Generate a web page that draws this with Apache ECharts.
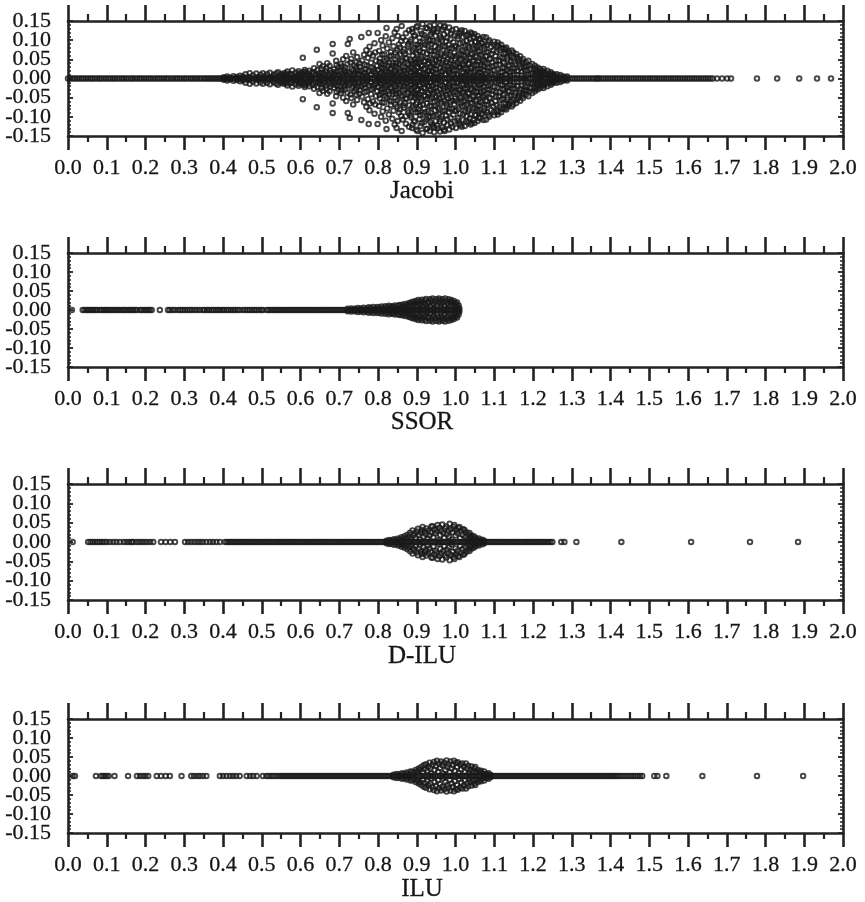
<!DOCTYPE html>
<html><head><meta charset="utf-8">
<script src="https://cdn.jsdelivr.net/npm/echarts@6/dist/echarts.min.js"></script>
<style>html,body{margin:0;padding:0;background:#fff}#c{width:865px;height:902px}</style>
</head><body><div id="c"></div>
<script>
// ---- tick labels ----
const xTickLabels = ['0.0','0.1','0.2','0.3','0.4','0.5','0.6','0.7','0.8','0.9','1.0','1.1','1.2','1.3','1.4','1.5','1.6','1.7','1.8','1.9','2.0'];
const yTickValues = [-0.15,-0.10,-0.05,0.00,0.05,0.10,0.15];
const yTickLabels = ['-0.15','-0.10','-0.05','0.00','0.05','0.10','0.15'];
const panelTitles = ['Jacobi','SSOR','D-ILU','ILU'];

// ---- Jacobi: real eigenvalues (on the axis) ----
const jacobiReal = [0.000,0.006,0.012,0.017,0.023,0.029,0.035,0.040,0.046,0.052,0.058,0.063,0.069,0.075,0.081,0.086,0.092,0.098,0.104,0.110,0.116,0.121,0.127,0.133,0.139,0.144,0.150,0.156,0.162,0.167,0.173,0.179,0.185,0.190,0.196,0.202,0.208,0.213,0.219,0.225,0.231,0.236,0.242,0.248,0.254,0.259,0.265,0.271,0.277,0.282,0.288,0.294,0.300,0.305,0.311,0.317,0.322,0.328,0.333,0.339,0.344,0.350,0.355,0.360,0.365,0.370,0.375,0.380,0.385,0.390,0.394,0.399,0.404,0.408,0.413,0.418,0.422,0.427,0.432,0.436,0.441,0.446,0.450,0.455,0.460,0.464,0.469,0.474,0.478,0.483,0.488,0.492,0.497,0.502,0.506,0.511,0.516,0.520,0.525,0.530,0.534,0.539,0.544,0.548,0.553,0.558,0.562,0.567,0.572,0.576,0.581,0.586,0.590,0.595,0.600,
0.606,0.612,0.618,0.624,0.630,0.636,0.642,0.648,0.654,0.660,0.666,0.672,0.678,0.684,0.690,0.696,0.702,0.708,0.714,0.720,0.726,0.732,0.738,0.744,0.750,0.756,0.762,0.768,0.774,0.780,0.786,0.792,0.798,0.804,0.810,0.816,0.822,0.828,0.834,0.840,0.846,0.852,0.858,0.864,0.870,0.876,0.882,0.888,0.894,0.900,0.906,0.912,0.918,0.924,0.930,0.936,0.942,0.948,0.954,0.960,0.966,0.972,0.978,0.984,0.990,0.996,1.002,1.008,1.014,1.020,1.026,1.032,1.038,1.044,1.050,1.056,1.062,1.068,1.074,1.080,1.086,1.092,1.098,1.104,1.110,1.116,1.122,1.128,1.134,1.140,1.146,1.152,1.158,1.164,1.170,1.176,1.182,1.188,1.194,1.200,1.206,1.212,1.218,1.224,1.230,1.236,1.242,1.248,1.254,1.260,1.266,1.272,1.278,1.284,1.290,1.296,
1.302,1.308,1.314,1.320,1.326,1.332,1.338,1.344,1.350,1.356,1.362,1.366,1.370,1.376,1.382,1.388,1.394,1.400,1.406,1.412,1.418,1.424,1.430,1.436,1.442,1.448,1.454,1.460,1.466,1.472,1.478,1.484,1.490,1.496,1.502,1.508,1.514,1.520,1.526,1.532,1.538,1.544,1.550,1.556,1.562,1.568,1.574,1.580,1.586,1.592,1.598,1.604,1.610,1.616,1.622,1.628,1.634,1.640,1.646,1.652,1.658,1.664,1.675,1.688,1.701,1.711,1.778,1.830,1.887,1.933,1.969];

// ---- Jacobi: complex eigenvalues, upper half-plane [re, im] (conjugates mirrored) ----
const jacobiComplex = [
[0.402,0.003],[0.411,0.005],[0.418,0.002],[0.427,0.006],[0.436,0.004],[0.444,0.007],
[0.452,0.005],[0.458,0.011],[0.466,0.003],[0.469,0.014],[0.477,0.008],[0.486,0.013],[0.491,0.004],[0.497,0.010],
[0.503,0.014],[0.508,0.006],[0.514,0.011],[0.521,0.015],[0.526,0.003],[0.531,0.009],[0.537,0.013],[0.542,0.016],[0.546,0.006],[0.549,0.011],
[0.553,0.004],[0.557,0.014],[0.561,0.009],[0.566,0.018],[0.571,0.006],[0.574,0.012],[0.579,0.021],[0.583,0.003],[0.587,0.015],[0.591,0.008],[0.595,0.019],[0.599,0.011],
[0.602,0.005],[0.606,0.054],[0.607,0.016],[0.611,0.022],[0.615,0.009],[0.619,0.013],[0.623,0.020],[0.627,0.004],[0.631,0.017],[0.635,0.027],[0.639,0.010],[0.642,0.075],[0.644,0.022],[0.648,0.014],[0.649,0.038],
[0.652,0.006],[0.654,0.025],[0.658,0.032],[0.661,0.012],[0.665,0.019],[0.669,0.040],[0.672,0.004],[0.675,0.033],[0.679,0.015],[0.683,0.090],[0.683,0.065],[0.686,0.024],[0.689,0.009],[0.692,0.046],[0.695,0.018],[0.698,0.030],
[0.701,0.006],[0.704,0.038],[0.707,0.013],[0.710,0.050],[0.712,0.022],[0.715,0.029],[0.718,0.059],[0.720,0.009],[0.722,0.090],[0.724,0.017],[0.727,0.103],[0.729,0.042],[0.732,0.025],[0.734,0.004],[0.736,0.068],[0.739,0.034],[0.741,0.014],[0.744,0.042],[0.746,0.056],[0.748,0.021],
[0.751,0.008],[0.753,0.030],[0.757,0.108],[0.759,0.047],[0.762,0.016],[0.764,0.062],[0.766,0.036],[0.768,0.024],[0.770,0.074],[0.772,0.005],[0.774,0.054],[0.776,0.119],[0.778,0.083],[0.780,0.011],[0.782,0.041],[0.784,0.029],[0.787,0.060],[0.789,0.019],[0.791,0.092],[0.793,0.068],[0.795,0.046],[0.796,0.008],[0.798,0.033],[0.799,0.119],
[0.801,0.022],[0.803,0.072],[0.805,0.052],[0.806,0.012],[0.808,0.100],[0.810,0.038],[0.812,0.086],[0.813,0.027],[0.815,0.004],[0.816,0.063],[0.818,0.045],[0.820,0.110],[0.821,0.017],[0.822,0.132],[0.824,0.078],[0.826,0.033],[0.828,0.094],[0.830,0.057],[0.831,0.009],[0.833,0.069],[0.835,0.024],[0.837,0.105],[0.838,0.041],[0.840,0.084],[0.842,0.015],[0.843,0.120],[0.845,0.050],[0.847,0.031],[0.848,0.129],[0.849,0.074],
[0.851,0.111],[0.852,0.006],[0.854,0.089],[0.855,0.038],[0.857,0.062],[0.858,0.020],[0.860,0.098],[0.861,0.137],[0.863,0.047],[0.864,0.107],[0.866,0.013],[0.867,0.076],[0.869,0.064],[0.870,0.029],[0.872,0.118],[0.874,0.053],[0.875,0.003],[0.877,0.085],[0.878,0.035],[0.880,0.126],[0.881,0.070],[0.883,0.018],[0.884,0.096],[0.886,0.102],[0.887,0.044],[0.888,0.129],[0.890,0.059],[0.891,0.024],[0.893,0.080],[0.894,0.010],[0.895,0.113],[0.896,0.040],[0.898,0.067],[0.899,0.134],[0.900,0.030],
[0.902,0.137],[0.903,0.088],[0.904,0.049],[0.906,0.016],[0.907,0.106],[0.908,0.072],[0.910,0.124],[0.911,0.034],[0.912,0.058],[0.914,0.005],[0.915,0.142],[0.916,0.094],[0.918,0.025],[0.919,0.079],[0.920,0.113],[0.922,0.046],[0.923,0.012],[0.925,0.107],[0.926,0.065],[0.927,0.131],[0.929,0.037],[0.930,0.086],[0.931,0.020],[0.933,0.137],[0.934,0.055],[0.935,0.100],[0.937,0.008],[0.938,0.072],[0.939,0.120],[0.941,0.042],[0.942,0.098],[0.943,0.027],[0.945,0.140],[0.946,0.061],[0.947,0.083],[0.948,0.014],[0.949,0.111],[0.950,0.048],[0.944,0.128],[0.936,0.115],
[0.952,0.034],[0.953,0.123],[0.954,0.076],[0.956,0.004],[0.957,0.093],[0.958,0.052],[0.960,0.138],[0.961,0.018],[0.962,0.106],[0.963,0.066],[0.965,0.040],[0.966,0.128],[0.967,0.084],[0.969,0.026],[0.970,0.115],[0.971,0.058],[0.972,0.137],[0.974,0.010],[0.975,0.097],[0.976,0.044],[0.978,0.072],[0.979,0.121],[0.980,0.031],[0.982,0.088],[0.983,0.015],[0.984,0.133],[0.986,0.062],[0.987,0.103],[0.988,0.047],[0.990,0.007],[0.991,0.079],[0.992,0.126],[0.994,0.036],[0.995,0.094],[0.996,0.021],[0.997,0.067],[0.998,0.112],[0.999,0.052],[0.985,0.024],[0.959,0.112],
[1.001,0.129],[1.002,0.083],[1.004,0.012],[1.005,0.041],[1.006,0.104],[1.008,0.063],[1.009,0.028],[1.010,0.118],[1.012,0.091],[1.013,0.005],[1.014,0.050],[1.016,0.126],[1.017,0.074],[1.018,0.033],[1.020,0.108],[1.021,0.017],[1.022,0.058],[1.024,0.124],[1.025,0.087],[1.026,0.045],[1.028,0.009],[1.029,0.099],[1.030,0.068],[1.031,0.024],[1.033,0.115],[1.034,0.038],[1.035,0.080],[1.037,0.053],[1.038,0.014],[1.039,0.120],[1.041,0.094],[1.042,0.030],[1.043,0.064],[1.045,0.006],[1.046,0.109],[1.047,0.046],[1.049,0.116],[1.050,0.077],
[1.051,0.020],[1.052,0.096],[1.054,0.056],[1.055,0.035],[1.057,0.111],[1.058,0.071],[1.059,0.008],[1.061,0.087],[1.062,0.043],[1.064,0.104],[1.065,0.026],[1.066,0.062],[1.068,0.014],[1.069,0.092],[1.071,0.048],[1.072,0.108],[1.073,0.031],[1.075,0.077],[1.076,0.004],[1.078,0.058],[1.079,0.107],[1.081,0.039],[1.082,0.088],[1.084,0.018],[1.085,0.068],[1.087,0.100],[1.088,0.029],[1.090,0.052],[1.092,0.083],[1.094,0.010],[1.096,0.042],[1.098,0.073],
[1.100,0.096],[1.101,0.022],[1.103,0.059],[1.105,0.035],[1.107,0.085],[1.109,0.094],[1.110,0.006],[1.112,0.047],[1.114,0.074],[1.116,0.016],[1.118,0.088],[1.120,0.054],[1.122,0.029],[1.124,0.079],[1.126,0.040],[1.128,0.010],[1.130,0.066],[1.131,0.081],[1.133,0.023],[1.135,0.050],[1.137,0.072],[1.139,0.035],[1.141,0.005],[1.144,0.060],[1.147,0.018],[1.149,0.068],
[1.151,0.044],[1.153,0.026],[1.157,0.064],[1.159,0.009],[1.162,0.051],[1.165,0.036],[1.167,0.058],[1.170,0.018],[1.172,0.045],[1.174,0.051],[1.177,0.030],[1.180,0.006],[1.182,0.042],[1.185,0.021],[1.188,0.046],[1.191,0.034],[1.195,0.012],[1.198,0.038],
[1.202,0.024],[1.205,0.033],[1.208,0.015],[1.212,0.029],[1.216,0.006],[1.219,0.025],[1.223,0.018],[1.227,0.025],[1.232,0.010],[1.237,0.020],[1.242,0.004],[1.246,0.016],
[1.251,0.012],[1.256,0.006],[1.261,0.011],[1.266,0.003],[1.270,0.009],[1.276,0.006],[1.282,0.004],[1.288,0.005]];
// more complex Jacobi eigenvalues filling the dense interior of the cloud
const jacobiComplexInner = [
[0.556,0.008],[0.563,0.013],[0.577,0.010],[0.589,0.004],[0.597,0.014],[0.604,0.011],[0.613,0.017],[0.621,0.007],[0.633,0.012],[0.646,0.008],
[0.656,0.015],[0.663,0.007],[0.667,0.027],[0.673,0.011],[0.677,0.021],[0.684,0.005],[0.688,0.016],[0.693,0.035],[0.697,0.010],[0.703,0.020],[0.706,0.031],[0.711,0.007],[0.716,0.016],[0.721,0.037],[0.726,0.012],[0.731,0.051],[0.735,0.020],[0.738,0.009],[0.743,0.028],[0.747,0.013],[0.752,0.040],[0.756,0.021],[0.761,0.007],[0.767,0.014],[0.771,0.033],[0.775,0.018],[0.779,0.065],[0.783,0.009],[0.788,0.025],[0.794,0.015],
[0.802,0.006],[0.804,0.043],[0.807,0.029],[0.809,0.015],[0.811,0.062],[0.814,0.010],[0.817,0.036],[0.819,0.022],[0.823,0.050],[0.825,0.007],[0.827,0.016],[0.829,0.041],[0.832,0.027],[0.834,0.060],[0.836,0.012],[0.839,0.033],[0.841,0.005],[0.844,0.020],[0.846,0.040],[0.848,0.011],[0.850,0.057],[0.853,0.026],[0.856,0.015],[0.859,0.044],[0.862,0.008],[0.864,0.031],[0.865,0.070],[0.868,0.019],[0.871,0.052],[0.873,0.012],[0.876,0.040],[0.878,0.023],[0.879,0.090],[0.882,0.006],[0.884,0.049],[0.885,0.029],[0.887,0.016],[0.889,0.074],[0.890,0.038],[0.892,0.008],[0.893,0.110],[0.895,0.050],[0.896,0.021],[0.897,0.088],[0.898,0.013],[0.899,0.044],[0.889,0.121],[0.871,0.099],[0.857,0.081],[0.845,0.068],
[0.901,0.063],[0.902,0.009],[0.903,0.027],[0.905,0.080],[0.906,0.041],[0.908,0.019],[0.909,0.096],[0.911,0.052],[0.912,0.004],[0.913,0.117],[0.914,0.033],[0.916,0.068],[0.917,0.012],[0.919,0.045],[0.921,0.088],[0.922,0.026],[0.924,0.132],[0.925,0.007],[0.927,0.053],[0.928,0.018],[0.930,0.101],[0.931,0.040],[0.933,0.072],[0.934,0.011],[0.936,0.031],[0.937,0.089],[0.939,0.050],[0.940,0.019],[0.942,0.124],[0.944,0.036],[0.945,0.005],[0.947,0.071],[0.949,0.024],[0.951,0.096],[0.952,0.057],[0.954,0.013],[0.955,0.130],[0.957,0.042],[0.959,0.080],[0.960,0.027],[0.962,0.006],[0.964,0.061],[0.965,0.099],[0.967,0.019],[0.968,0.047],[0.970,0.134],[0.972,0.033],[0.973,0.084],[0.975,0.012],[0.977,0.065],[0.979,0.106],[0.980,0.050],[0.982,0.021],[0.984,0.078],[0.986,0.040],[0.988,0.118],[0.990,0.028],[0.992,0.058],[0.995,0.011],[0.998,0.085],
[1.000,0.035],[1.002,0.058],[1.003,0.022],[1.005,0.110],[1.007,0.008],[1.008,0.079],[1.010,0.046],[1.012,0.030],[1.013,0.122],[1.015,0.062],[1.017,0.014],[1.019,0.093],[1.020,0.038],[1.022,0.004],[1.023,0.071],[1.025,0.026],[1.027,0.112],[1.028,0.052],[1.030,0.017],[1.032,0.085],[1.033,0.040],[1.035,0.008],[1.037,0.103],[1.038,0.064],[1.040,0.027],[1.042,0.117],[1.043,0.047],[1.045,0.079],[1.047,0.015],[1.048,0.033],[1.050,0.095],[1.052,0.060],[1.053,0.007],[1.055,0.082],[1.057,0.025],[1.058,0.045],[1.060,0.103],[1.062,0.016],[1.063,0.071],[1.065,0.036],[1.067,0.091],[1.069,0.006],[1.070,0.057],[1.072,0.022],[1.074,0.084],[1.076,0.043],[1.078,0.012],[1.080,0.070],[1.082,0.029],[1.085,0.095],[1.087,0.050],[1.090,0.015],[1.093,0.064],[1.096,0.032],[1.099,0.088],
[1.102,0.008],[1.104,0.046],[1.106,0.070],[1.108,0.023],[1.111,0.088],[1.113,0.036],[1.115,0.057],[1.117,0.005],[1.119,0.079],[1.121,0.017],[1.123,0.043],[1.125,0.064],[1.127,0.027],[1.129,0.077],[1.132,0.009],[1.134,0.056],[1.136,0.032],[1.138,0.066],[1.140,0.017],[1.143,0.045],[1.145,0.073],[1.148,0.026],[1.150,0.055],[1.152,0.010],[1.155,0.038],[1.158,0.056],[1.161,0.020],[1.164,0.044],[1.168,0.028],[1.171,0.008],[1.175,0.039],[1.179,0.022],[1.183,0.032],[1.187,0.010],[1.193,0.025],
[1.200,0.014],[1.204,0.008],[1.207,0.026],[1.210,0.020],[1.214,0.012],[1.218,0.017],[1.221,0.004],[1.225,0.011],[1.229,0.018],[1.234,0.014],[1.239,0.008],[1.244,0.011],[1.249,0.007],[1.254,0.009],[1.259,0.003]];

// ---- SSOR ----
const ssorReal = [0.010,
0.038,0.043,0.048,0.052,0.057,0.062,0.066,0.071,0.075,
0.082,0.087,0.092,0.097,0.101,0.106,0.111,0.116,0.121,
0.126,0.131,0.137,0.142,0.147,
0.152,0.158,0.163,0.168,0.173,0.178,
0.186,0.191,0.197,0.202,0.207,0.211,0.216,
0.237,
0.258,0.263,0.270,0.276,
0.284,0.290,0.296,0.302,0.308,0.314,0.320,0.327,0.333,0.340,
0.348,0.353,0.359,0.364,0.370,0.375,0.381,0.387,0.392,0.398,0.403,0.409,0.414,0.420,0.426,0.431,0.437,0.443,
0.451,0.457,0.463,0.469,0.475,0.481,0.486,0.492,0.498,0.503,
0.513,0.518,0.523,0.528,0.533,0.538,0.543,0.548,0.553,0.558,0.563,0.568,0.573,0.578,0.583,0.588,0.593,0.598,0.603,0.608,0.613,0.618,0.623,0.628,0.633,0.638,0.643,0.648,0.653,0.658,0.663,0.668,0.673,0.678,0.683,
0.688,0.693,0.698,0.703,0.708,0.713,0.718,0.723,0.728,0.733,0.738,0.743,0.748,0.753,0.758,0.763,0.768,0.773,0.778,0.783,0.788,0.793,0.798,0.803,0.808,0.813,0.818,0.823,0.828,0.833,0.838,0.843,0.848,0.853,0.858,0.863,0.868,0.873,0.878,0.883,0.888,0.893,0.898,0.903,0.908,0.913,0.918,0.923,0.928,0.933,0.938,0.943,0.948,0.953,0.958,0.963,0.968,0.973,0.978,0.983,0.988,0.993,0.998,1.003,1.008];
const ssorComplex = [
[0.722,0.003],[0.731,0.004],[0.740,0.003],[0.748,0.005],[0.756,0.004],[0.763,0.006],[0.770,0.003],[0.776,0.007],[0.782,0.005],[0.788,0.008],[0.794,0.004],[0.799,0.008],[0.804,0.006],[0.809,0.009],[0.814,0.004],[0.819,0.010],[0.823,0.007],[0.828,0.011],[0.832,0.005],[0.836,0.010],[0.840,0.008],[0.844,0.012],[0.848,0.006],[0.852,0.011],[0.856,0.013],[0.860,0.008],[0.863,0.014],[0.867,0.010],[0.870,0.016],[0.873,0.005],
[0.876,0.013],[0.879,0.018],[0.882,0.009],[0.885,0.020],[0.887,0.014],[0.890,0.022],[0.892,0.006],[0.894,0.017],[0.897,0.024],[0.899,0.011],[0.901,0.020],[0.904,0.026],[0.906,0.015],[0.908,0.004],[0.910,0.022],[0.913,0.027],[0.915,0.010],[0.917,0.018],[0.920,0.025],[0.922,0.014],[0.924,0.029],[0.927,0.006],[0.929,0.021],[0.931,0.017],[0.934,0.028],[0.936,0.011],[0.938,0.024],[0.941,0.030],[0.943,0.016],[0.945,0.005],[0.948,0.022],[0.950,0.028],[0.952,0.012],[0.955,0.019],[0.957,0.030],[0.959,0.025],[0.962,0.008],[0.964,0.016],[0.966,0.028],[0.969,0.021],[0.971,0.012],[0.973,0.030],[0.976,0.024],[0.978,0.004],[0.980,0.017],[0.982,0.028],[0.985,0.010],[0.987,0.022],[0.989,0.026],[0.991,0.014],[0.993,0.020],[0.996,0.024],[0.998,0.008],[1.000,0.018],[1.002,0.013],[1.004,0.020],[1.006,0.006],[1.008,0.012],[1.010,0.004]];

// ---- D-ILU ----
const diluReal = [0.012,
0.052,0.058,0.064,0.070,0.076,0.082,0.088,0.094,0.100,0.108,
0.117,0.125,0.134,
0.144,0.151,0.158,0.164,
0.168,0.176,0.183,0.190,0.197,0.204,0.212,0.220,
0.240,0.252,0.264,0.276,
0.302,0.310,0.318,0.326,0.334,0.341,0.348,
0.357,0.366,0.374,0.383,0.392,
0.405,0.410,0.415,0.420,0.425,0.430,0.435,0.440,0.445,0.450,0.455,0.460,0.465,0.470,0.475,0.480,0.485,0.490,0.495,0.500,0.505,0.510,0.515,0.520,0.525,0.530,0.535,0.540,0.545,0.550,0.555,0.560,0.565,0.570,0.575,0.580,0.585,0.590,0.595,0.600,0.605,0.610,0.615,0.620,0.625,0.630,0.635,0.640,0.645,0.650,0.655,0.660,0.665,0.670,0.675,0.680,0.685,0.690,0.695,0.700,0.705,0.710,0.715,0.720,0.725,0.730,0.735,0.740,0.745,0.750,0.755,0.760,0.765,0.770,0.775,0.780,0.785,0.790,0.795,0.800,0.805,0.810,0.815,0.820,
0.825,0.830,0.835,0.840,0.845,0.850,0.855,0.860,0.865,0.870,0.875,0.880,0.885,0.890,0.895,0.900,0.905,0.910,0.915,0.920,0.925,0.930,0.935,0.940,0.945,0.950,0.955,0.960,0.965,0.970,0.975,0.980,0.985,0.990,0.995,1.000,1.005,1.010,1.015,1.020,1.025,1.030,1.035,1.040,1.045,1.050,1.055,1.060,1.065,1.070,1.075,1.080,
1.085,1.090,1.095,1.100,1.105,1.110,1.115,1.120,1.125,1.130,1.135,1.140,1.145,1.150,1.155,1.160,1.165,1.170,1.175,1.180,1.185,1.190,1.195,1.200,1.205,1.210,1.215,1.220,1.225,1.230,1.235,1.240,1.245,1.250,
1.273,1.281,1.312,1.428,1.608,1.760,1.884];
const diluComplex = [
[0.822,0.003],[0.829,0.005],[0.835,0.004],[0.841,0.007],[0.847,0.005],[0.852,0.009],[0.857,0.006],[0.861,0.012],[0.865,0.008],[0.869,0.015],[0.873,0.010],[0.876,0.019],[0.880,0.013],[0.883,0.024],[0.886,0.007],[0.889,0.030],[0.891,0.017],[0.894,0.022],[0.897,0.011],[0.900,0.027],[0.903,0.034],[0.905,0.018],[0.908,0.006],[0.911,0.024],[0.913,0.031],[0.915,0.039],[0.918,0.014],[0.920,0.027],[0.923,0.021],[0.925,0.035],[0.928,0.009],[0.930,0.030],[0.933,0.017],[0.936,0.025],[0.938,0.040],[0.941,0.041],[0.943,0.012],[0.946,0.033],[0.948,0.022],[0.951,0.028],[0.954,0.044],[0.956,0.005],[0.958,0.037],[0.961,0.018],[0.963,0.030],[0.966,0.045],[0.968,0.024],[0.971,0.011],[0.973,0.035],[0.976,0.040],[0.978,0.020],[0.981,0.029],[0.983,0.014],[0.985,0.047],[0.988,0.033],[0.990,0.006],[0.993,0.025],[0.995,0.039],[0.997,0.044],[1.000,0.017],[1.002,0.031],[1.005,0.023],[1.007,0.036],[1.010,0.039],[1.012,0.010],[1.015,0.027],[1.018,0.019],[1.020,0.033],[1.023,0.031],[1.026,0.014],[1.028,0.025],[1.031,0.006],[1.033,0.019],[1.036,0.023],[1.039,0.012],[1.042,0.017],[1.045,0.008],[1.048,0.014],[1.052,0.010],[1.056,0.005],[1.060,0.009],[1.064,0.004],[1.069,0.006],[1.074,0.003]];

// ---- ILU ----
const iluReal = [0.012,0.018,
0.072,0.085,0.090,0.095,0.100,0.105,0.120,
0.155,0.178,0.186,0.193,0.200,0.207,
0.229,0.240,0.252,0.263,
0.293,
0.318,0.325,0.333,0.340,0.348,0.357,
0.392,0.400,0.409,0.418,0.426,0.434,0.443,
0.461,0.470,0.478,0.487,
0.503,
0.512,0.518,0.524,0.530,0.536,0.542,0.548,0.553,0.558,0.563,0.568,0.573,0.578,0.583,0.588,0.593,0.598,0.603,0.608,0.613,0.618,0.623,0.628,0.633,0.638,0.643,0.648,0.653,0.658,0.663,0.668,0.673,0.678,0.683,0.688,0.693,0.698,0.703,0.708,0.713,0.718,0.723,0.728,0.733,0.738,0.743,0.748,0.753,0.758,0.763,0.768,0.773,0.778,0.783,0.788,0.793,0.798,0.803,0.808,0.813,0.818,0.823,0.828,0.833,0.838,0.843,0.848,0.853,
0.858,0.863,0.868,0.873,0.878,0.883,0.888,0.893,0.898,0.903,0.908,0.913,0.918,0.923,0.928,0.933,0.938,0.943,0.948,0.953,0.958,0.963,0.968,0.973,0.978,0.983,0.988,0.993,0.998,1.003,1.008,1.013,1.018,1.023,1.028,1.033,1.038,1.043,1.048,1.053,1.058,1.063,1.068,1.073,1.078,
1.083,1.088,1.093,1.098,1.103,1.108,1.113,1.118,1.123,1.128,1.133,1.138,1.143,1.148,1.153,1.158,1.163,1.168,1.173,1.178,1.183,1.188,1.193,1.198,1.203,1.208,1.213,1.218,1.223,1.228,1.233,1.238,1.243,1.248,1.253,1.258,1.263,1.268,1.273,1.278,1.283,1.288,1.293,1.298,1.303,1.308,1.313,1.318,1.323,1.328,1.333,1.338,1.343,1.348,1.353,1.358,1.363,1.368,1.373,1.378,1.383,1.388,1.393,1.397,1.402,1.407,1.412,1.417,1.422,1.428,1.434,1.440,1.446,1.452,1.458,1.464,1.470,1.476,1.482,
1.513,1.521,1.544,1.637,1.778,1.897];
const iluComplex = [
[0.840,0.003],[0.848,0.005],[0.855,0.004],[0.862,0.007],[0.868,0.005],[0.874,0.009],[0.879,0.006],[0.884,0.012],[0.889,0.011],[0.893,0.008],[0.897,0.016],[0.901,0.012],[0.905,0.020],[0.908,0.016],[0.912,0.024],[0.915,0.009],[0.918,0.028],[0.921,0.019],[0.924,0.031],[0.927,0.014],[0.930,0.025],[0.933,0.035],[0.935,0.020],[0.938,0.006],[0.941,0.030],[0.944,0.037],[0.946,0.016],[0.949,0.026],[0.952,0.040],[0.955,0.011],[0.957,0.033],[0.960,0.021],[0.963,0.038],[0.966,0.028],[0.968,0.006],[0.971,0.035],[0.974,0.016],[0.977,0.041],[0.979,0.024],[0.982,0.031],[0.985,0.010],[0.987,0.038],[0.990,0.020],[0.993,0.029],[0.996,0.040],[0.998,0.014],[1.001,0.034],[1.004,0.024],[1.006,0.036],[1.009,0.007],[1.012,0.030],[1.015,0.018],[1.018,0.033],[1.021,0.025],[1.024,0.012],[1.027,0.033],[1.030,0.020],[1.033,0.027],[1.036,0.007],[1.039,0.016],[1.042,0.025],[1.045,0.012],[1.048,0.020],[1.051,0.024],[1.054,0.009],[1.058,0.016],[1.062,0.011],[1.066,0.014],[1.070,0.006],[1.074,0.012],[1.079,0.005],[1.085,0.007],[1.090,0.003]];

// ---- build option ----
const INK = '#222';
const TXT = '#161616';
const FONT = '"Liberation Serif","Times New Roman",serif';
const panels = [
  {real: jacobiReal, cplx: jacobiComplex.concat(jacobiComplexInner), top: 21, height: 115, titleY: 191},
  {real: ssorReal,   cplx: ssorComplex,   top: 253, height: 114, titleY: 422},
  {real: diluReal,   cplx: diluComplex,   top: 484, height: 116, titleY: 656},
  {real: iluReal,    cplx: iluComplex,    top: 719, height: 114, titleY: 889}
];
function points(real, cplx) {
  // real eigenvalues on the axis, complex ones with their conjugates
  return real.map(x => [x, 0])
    .concat(cplx.map(p => [p[0], p[1]]))
    .concat(cplx.map(p => [p[0], -p[1]]));
}
function yLabel(v) {
  let best = 0;
  yTickValues.forEach((t, k) => { if (Math.abs(t - v) < Math.abs(yTickValues[best] - v)) best = k; });
  return yTickLabels[best];
}
// split the y labels into two interleaved sets so that none of them is dropped for overlap
const yLabelsA = yTickValues.filter((v, k) => k % 2 === 0);
const yLabelsB = yTickValues.filter((v, k) => k % 2 === 1);
const grid = [], xAxis = [], yAxis = [], series = [], graphic = [];
const lineW = 2.6;
const labelStyle = {fontFamily: FONT, fontSize: 22, color: TXT, textBorderColor: TXT, textBorderWidth: 0.3};
panels.forEach((p, i) => {
  grid.push({left: 68, width: 775, top: p.top, height: p.height});
  const xBase = {gridIndex: i, type: 'value', min: 0, max: 2, interval: 0.1,
    splitLine: {show: false},
    axisLine: {show: true, onZero: false, lineStyle: {color: INK, width: lineW}}};
  xAxis.push(Object.assign({}, xBase, {position: 'bottom',
    axisTick: {show: true, inside: false, length: 14, lineStyle: {color: INK, width: 2.6}},
    minorTick: {show: true, splitNumber: 2, length: 6, lineStyle: {color: INK, width: 2.2}},
    axisLabel: Object.assign({show: true, margin: 21, showMinLabel: true, showMaxLabel: true, hideOverlap: false,
      formatter: v => xTickLabels[Math.round(v * 10)]}, labelStyle)}));
  xAxis.push(Object.assign({}, xBase, {position: 'top',
    axisTick: {show: true, inside: false, length: 16, lineStyle: {color: INK, width: 2.6}},
    minorTick: {show: true, splitNumber: 2, length: 7, lineStyle: {color: INK, width: 2.2}},
    axisLabel: {show: false}}));
  const yBase = {gridIndex: i, type: 'value', min: -0.15, max: 0.15, interval: 0.05,
    splitLine: {show: false},
    axisLine: {show: true, onZero: false, lineStyle: {color: INK, width: lineW}},
    axisTick: {show: true, inside: true, length: 5, lineStyle: {color: INK, width: 1.8}},
    minorTick: {show: true, splitNumber: 5, length: 3, lineStyle: {color: INK, width: 1.5}}};
  const yLab = Object.assign({show: true, margin: 17, showMinLabel: true, showMaxLabel: true, hideOverlap: false,
      formatter: yLabel}, labelStyle);
  // left axis (line, ticks, labels 0.15 / 0.05 / -0.05 / -0.15)
  yAxis.push(Object.assign({}, yBase, {position: 'left',
    axisLabel: Object.assign({}, yLab, {customValues: yLabelsA})}));
  // right frame axis
  yAxis.push(Object.assign({}, yBase, {position: 'right', axisLabel: {show: false}}));
  // second left axis, only labels 0.10 / 0.00 / -0.10
  yAxis.push(Object.assign({}, yBase, {position: 'left', offset: 0,
    axisLine: {show: false}, axisTick: {show: false}, minorTick: {show: false},
    axisLabel: Object.assign({}, yLab, {customValues: yLabelsB})}));
  series.push({type: 'scatter', xAxisIndex: 2 * i, yAxisIndex: 3 * i,
    data: points(p.real, p.cplx), symbol: 'circle', symbolSize: 4.6,
    itemStyle: {color: 'rgba(0,0,0,0)', borderColor: '#1a1a1a', borderWidth: 1.9},
    emphasis: {disabled: true}, silent: true, large: false});
  graphic.push({type: 'text', x: 422, y: p.titleY,
    style: {text: panelTitles[i], fontFamily: FONT, fontSize: 25, fill: TXT, stroke: TXT, lineWidth: 0.3,
      textAlign: 'center', textVerticalAlign: 'middle'}});
});
const chart = echarts.init(document.getElementById('c'), null, {renderer: 'canvas'});
chart.setOption({backgroundColor: '#ffffff', animation: false, grid, xAxis, yAxis, series, graphic});
</script>
</body></html>
